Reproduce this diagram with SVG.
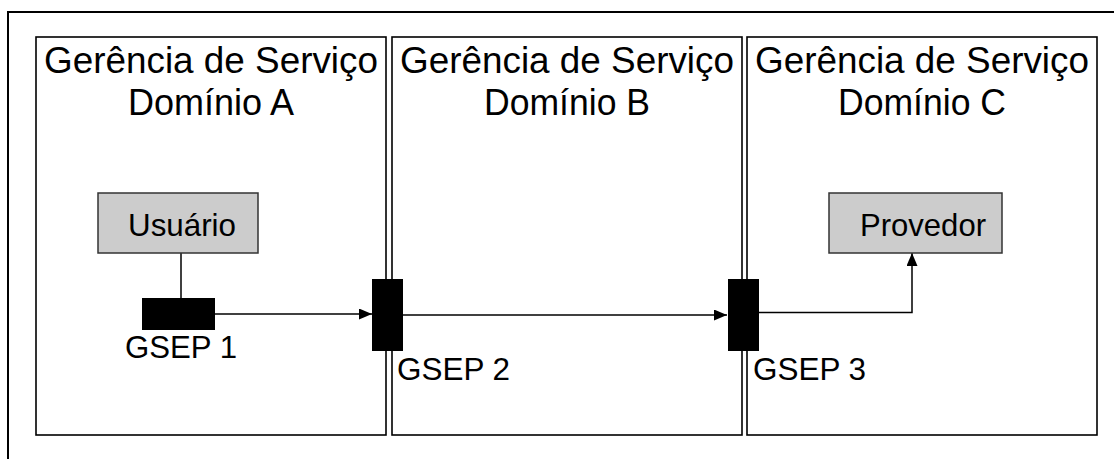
<svg xmlns="http://www.w3.org/2000/svg" width="1114" height="459" viewBox="0 0 1114 459">
<style>
.frame{fill:none;stroke:#000;stroke-width:2}
.panel{fill:#fff;stroke:#000;stroke-width:1.6}
.box{fill:#cccccc;stroke:#333;stroke-width:1.5}
.gsep{fill:#000;stroke:none}
.t{font-family:"Liberation Sans",Arial,sans-serif;fill:#000}
.title{font-size:37px;text-anchor:middle}
.lbl{font-size:32px}
.conn{fill:none;stroke:#000;stroke-width:1.5}
</style>
<defs>
<marker id="arr" viewBox="0 0 13 11" refX="13" refY="5.5" markerWidth="13" markerHeight="11" markerUnits="userSpaceOnUse" orient="auto">
<path d="M0,0 L13,5.5 L0,11 Z" fill="#000"/>
</marker>
</defs>
<rect class="frame" x="8" y="12" width="1130" height="470"/>
<g id="panelA">
<rect class="panel" x="36" y="37" width="350" height="398"/>
<text class="t title" x="211" y="73" textLength="334" lengthAdjust="spacingAndGlyphs">Gerência de Serviço</text>
<text class="t title" x="211" y="115" textLength="166" lengthAdjust="spacingAndGlyphs">Domínio A</text>
</g>
<g id="panelB">
<rect class="panel" x="392" y="37" width="350" height="398"/>
<text class="t title" x="567" y="73" textLength="334" lengthAdjust="spacingAndGlyphs">Gerência de Serviço</text>
<text class="t title" x="567" y="115" textLength="166" lengthAdjust="spacingAndGlyphs">Domínio B</text>
</g>
<g id="panelC">
<rect class="panel" x="747" y="37" width="350" height="398"/>
<text class="t title" x="922" y="73" textLength="334" lengthAdjust="spacingAndGlyphs">Gerência de Serviço</text>
<text class="t title" x="922" y="115" textLength="168" lengthAdjust="spacingAndGlyphs">Domínio C</text>
</g>
<g id="connectors">
<line class="conn" x1="181" y1="253" x2="181" y2="298"/>
<line class="conn" x1="215" y1="314" x2="372" y2="314" marker-end="url(#arr)"/>
<line class="conn" x1="403" y1="315" x2="727" y2="315" marker-end="url(#arr)"/>
<polyline class="conn" points="759,312.5 912,312.5 912,253" marker-end="url(#arr)"/>
</g>
<g id="usuario">
<rect class="box" x="98" y="193" width="160" height="60"/>
<text class="t lbl" x="128" y="236" textLength="108" lengthAdjust="spacingAndGlyphs">Usuário</text>
</g>
<g id="provedor">
<rect class="box" x="829" y="193" width="173" height="60"/>
<text class="t lbl" x="860" y="236" textLength="126" lengthAdjust="spacingAndGlyphs">Provedor</text>
</g>
<g id="gsep1">
<rect class="gsep" x="142" y="298" width="73" height="32"/>
<text class="t lbl" x="125" y="358" textLength="112" lengthAdjust="spacingAndGlyphs">GSEP 1</text>
</g>
<g id="gsep2">
<rect class="gsep" x="372" y="279" width="31" height="72"/>
<text class="t lbl" x="397" y="380" textLength="113" lengthAdjust="spacingAndGlyphs">GSEP 2</text>
</g>
<g id="gsep3">
<rect class="gsep" x="728" y="279" width="31" height="72"/>
<text class="t lbl" x="753" y="380" textLength="113" lengthAdjust="spacingAndGlyphs">GSEP 3</text>
</g>
</svg>
